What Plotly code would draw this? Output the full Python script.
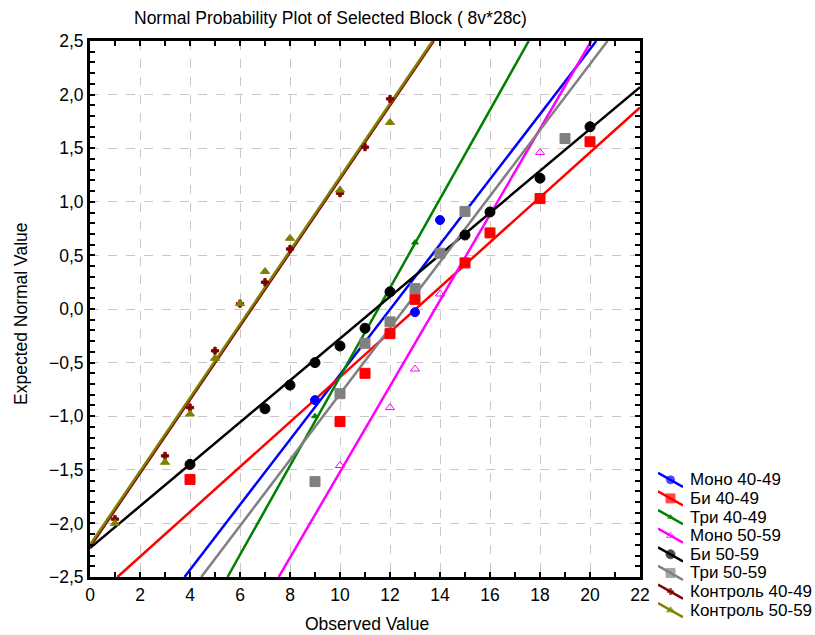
import plotly.graph_objects as go

# === Series names and styles (legend order)
names = ["Моно 40-49", "Би 40-49", "Три 40-49", "Моно 50-59",
         "Би 50-59", "Три 50-59", "Контроль 40-49", "Контроль 50-59"]
colors = ["#0000FF", "#FF0000", "#008000", "#FF00FF",
          "#000000", "#808080", "#800000", "#808000"]
symbols = ["circle", "square", "triangle-up", "triangle-up-open",
           "circle", "square", "cross", "triangle-up"]
sizes = [9, 10, 6, 8, 10, 10, 6, 8]

mono_40_x = [9, 13, 14]
mono_40_y = [-0.85, -0.03, 0.83]
bi_40_x = [4, 10, 11, 12, 13, 15, 16, 18, 20]
bi_40_y = [-1.59, -1.05, -0.60, -0.23, 0.09, 0.43, 0.71, 1.03, 1.56]
tri_40_x = [9, 12, 13]
tri_40_y = [-1.00, 0.18, 0.62]
mono_50_x = [10, 12, 13, 14, 18]
mono_50_y = [-1.46, -0.92, -0.56, 0.14, 1.46]
bi_50_x = [4, 7, 8, 9, 10, 11, 12, 15, 16, 18, 20]
bi_50_y = [-1.45, -0.93, -0.71, -0.50, -0.345, -0.18, 0.16, 0.69, 0.905, 1.22, 1.70]
tri_50_x = [9, 10, 11, 12, 13, 14, 15, 19]
tri_50_y = [-1.61, -0.79, -0.32, -0.12, 0.19, 0.52, 0.91, 1.59]
ctrl_40_x = [1, 3, 4, 5, 6, 7, 8, 10, 11, 12]
ctrl_40_y = [-1.96, -1.37, -0.92, -0.39, 0.05, 0.25, 0.56, 1.08, 1.51, 1.96]
ctrl_50_x = [1, 3, 4, 5, 6, 7, 8, 10, 12]
ctrl_50_y = [-2.00, -1.43, -0.98, -0.46, 0.05, 0.35, 0.66, 1.11, 1.74]

xs = [mono_40_x, bi_40_x, tri_40_x, mono_50_x, bi_50_x, tri_50_x, ctrl_40_x, ctrl_50_x]
ys = [mono_40_y, bi_40_y, tri_40_y, mono_50_y, bi_50_y, tri_50_y, ctrl_40_y, ctrl_50_y]

# === Fitted line end points (as drawn, clipped to the frame)
fit_x0 = [3.78, 1.1, 5.5, 7.55, 0, 4.45, 0, 0]
fit_y0 = [-2.5, -2.5, -2.5, -2.5, -2.23, -2.5, -2.22, -2.2]
fit_x1 = [20.25, 22, 17.55, 20.05, 22, 20.7, 13.75, 13.7]
fit_y1 = [2.5, 1.88, 2.5, 2.5, 2.07, 2.5, 2.5, 2.5]

W, H = 815, 635
FONT = "Liberation Sans, Arial"
FS = 17.5

fig = go.Figure()

# fitted lines first
for i, name in enumerate(names):
    fig.add_trace(go.Scatter(
        x=[fit_x0[i], fit_x1[i]], y=[fit_y0[i], fit_y1[i]],
        mode="lines", line=dict(color=colors[i], width=2.5),
        showlegend=False, hoverinfo="skip"
    ))

# points
for i, name in enumerate(names):
    fig.add_trace(go.Scatter(
        x=xs[i], y=ys[i], mode="markers", name=name, showlegend=False,
        marker=dict(color=colors[i], symbol=symbols[i], size=sizes[i],
                    line=dict(color=colors[i], width=1))
    ))

# hand-made legend (diagonal line glyph with marker), on its own hidden axes
annotations = []
for i, name in enumerate(names):
    yc = -(i + 0.5)
    fig.add_trace(go.Scatter(
        x=[0, 0.5, 1], y=[yc + 0.38, yc, yc - 0.38],
        mode="lines+markers", xaxis="x2", yaxis="y2",
        line=dict(color=colors[i], width=2.5),
        marker=dict(color=colors[i], symbol=symbols[i], size=[0, sizes[i] - 1, 0],
                    line=dict(color=colors[i], width=1)),
        showlegend=False, hoverinfo="skip", cliponaxis=False
    ))
    annotations.append(dict(
        text=name, xref="paper", yref="y2", x=688 / W, y=yc,
        xanchor="left", yanchor="middle", showarrow=False,
        font=dict(family=FONT, size=17, color="black")
    ))

axis_common = dict(
    showline=True, linecolor="black", linewidth=3, mirror="ticks",
    ticks="inside", ticklen=5, tickwidth=2, tickcolor="black",
    showgrid=True, gridcolor="#c8c8c8", griddash="dash", gridwidth=1,
    zeroline=False, automargin=False,
    tickfont=dict(family=FONT, size=FS, color="black"),
)

fig.update_layout(
    xaxis=dict(
        domain=[90 / W, 640 / W], range=[0, 22], tick0=0, dtick=2,
        minor=dict(dtick=1, ticks="inside", ticklen=5, tickwidth=2,
                   tickcolor="black", showgrid=False),
        **axis_common
    ),
    yaxis=dict(
        domain=[(H - 577) / H, (H - 41) / H], range=[-2.5, 2.5],
        tick0=-2.5, dtick=0.5, tickformat=".1f",
        minor=dict(dtick=0.1, ticks="inside", ticklen=5, tickwidth=2,
                   tickcolor="black", showgrid=False),
        **axis_common
    ),
    xaxis2=dict(domain=[658 / W, 683 / W], range=[0, 1], visible=False,
                anchor="y2", fixedrange=True),
    yaxis2=dict(domain=[(H - 619.5) / H, (H - 470.5) / H], range=[-8, 0],
                visible=False, anchor="x2", fixedrange=True),
)

annotations += [
    dict(text="Normal Probability Plot of Selected Block ( 8v*28c)",
         xref="paper", yref="paper", x=330 / W, y=1 - 18 / H,
         xanchor="center", yanchor="middle", showarrow=False,
         font=dict(family=FONT, size=FS, color="black")),
    dict(text="Observed Value", xref="paper", yref="paper",
         x=367 / W, y=1 - 624 / H, xanchor="center", yanchor="middle",
         showarrow=False, font=dict(family=FONT, size=FS, color="black")),
    dict(text="Expected Normal Value", xref="paper", yref="paper",
         x=21 / W, y=1 - 314 / H, xanchor="center", yanchor="middle",
         textangle=-90, showarrow=False,
         font=dict(family=FONT, size=FS, color="black")),
]

fig.update_layout(
    width=W, height=H,
    margin=dict(l=0, r=0, t=0, b=0, autoexpand=False),
    plot_bgcolor="white", paper_bgcolor="white",
    separators=", ",
    showlegend=False,
    hovermode=False,
    font=dict(family=FONT, size=FS, color="black"),
    annotations=annotations,
)

# page body margin would otherwise shift the whole figure by 8px
fig.write_html("out.html", config={"displayModeBar": False},
               post_script="document.body.style.margin='0';")
